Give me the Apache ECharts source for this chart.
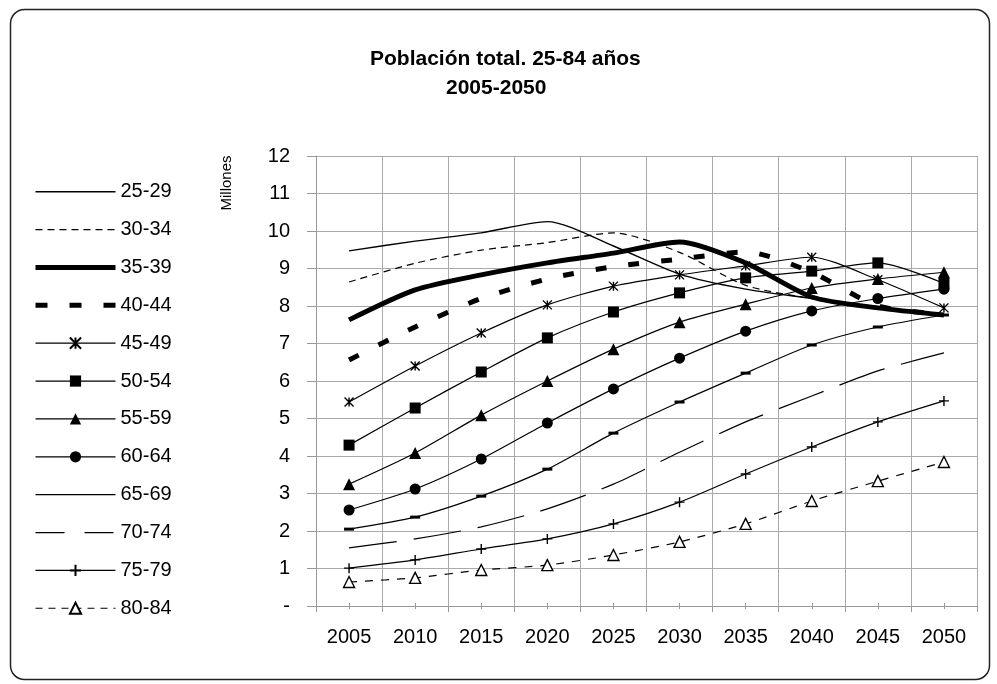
<!DOCTYPE html>
<html>
<head>
<meta charset="utf-8">
<title>Población total. 25-84 años</title>
<script src="https://cdn.jsdelivr.net/npm/echarts@6/dist/echarts.min.js"></script>
<style>
  html, body { margin: 0; padding: 0; background: #fff; }
  #chart { width: 997px; height: 684px; }
</style>
</head>
<body>
<div id="chart"></div>
<script>
// años (eje X)
var years = ['2005', '2010', '2015', '2020', '2025', '2030', '2035', '2040', '2045', '2050'];

// grupos de edad
var groups = ['25-29', '30-34', '35-39', '40-44', '45-49', '50-54', '55-59', '60-64', '65-69', '70-74', '75-79', '80-84'];

// población en millones
var g25_29 = [9.47, 9.73, 9.95, 10.25, 9.60, 8.85, 8.45, 8.20, 7.95, 7.75];
var g30_34 = [8.64, 9.14, 9.49, 9.69, 9.95, 9.43, 8.55, 8.20, 7.98, 7.75];
var g35_39 = [7.63, 8.43, 8.83, 9.15, 9.41, 9.71, 9.15, 8.24, 7.95, 7.76];
var g40_44 = [6.56, 7.44, 8.20, 8.72, 9.05, 9.25, 9.44, 8.90, 8.00, 7.78];
var g45_49 = [5.44, 6.40, 7.28, 8.03, 8.53, 8.83, 9.07, 9.30, 8.70, 7.95];
var g50_54 = [4.29, 5.28, 6.24, 7.15, 7.84, 8.35, 8.75, 8.93, 9.15, 8.60];
var g55_59 = [3.25, 4.08, 5.09, 6.00, 6.85, 7.57, 8.05, 8.48, 8.72, 8.90];
var g60_64 = [2.56, 3.12, 3.92, 4.88, 5.79, 6.61, 7.33, 7.87, 8.20, 8.45];
var g65_69 = [2.05, 2.37, 2.93, 3.65, 4.61, 5.44, 6.21, 6.96, 7.44, 7.76];
var g70_74 = [1.55, 1.79, 2.11, 2.59, 3.25, 4.10, 4.91, 5.60, 6.27, 6.75];
var g75_79 = [1.01, 1.23, 1.52, 1.79, 2.19, 2.77, 3.52, 4.24, 4.91, 5.47];
var g80_84 = [0.64, 0.75, 0.96, 1.09, 1.36, 1.71, 2.19, 2.80, 3.33, 3.84];

var values = [g25_29, g30_34, g35_39, g40_44, g45_49, g50_54, g55_59, g60_64, g65_69, g70_74, g75_79, g80_84];

// marcadores tipo Excel
var starPath = 'path://M0,0 L10,10 M10,0 L0,10 M5,0 L5,10';
var plusPath = 'path://M5,0 L5,10 M0,5 L10,5';
var dashPath = 'path://M0,0 L10,0 L10,3 L0,3 Z';

// estilo de cada serie: [ancho, tipo de linea, simbolo, tamaño, relleno, linea en leyenda]
var styles = [
  [1.4, 'solid', 'none'],
  [1.2, [7, 5], 'none'],
  [5, 'solid', 'none'],
  [5, [11, 22], 'none', 0, null, [12, 22]],
  [1.2, 'solid', starPath, 9, '#000'],
  [1.2, 'solid', 'rect', 11, '#000'],
  [1.2, 'solid', 'triangle', 12, '#000'],
  [1.2, 'solid', 'circle', 11, '#000'],
  [1.2, 'solid', dashPath, 10, '#000'],
  [1.2, [48, 17], 'none', 0, null, [29, 20]],
  [1.2, 'solid', plusPath, 10, '#000'],
  [1.2, [8, 8], 'triangle', 11, '#fff', [7, 6]]
];

var series = [];
var legendData = [];
for (let i = 0; i < groups.length; i++) {
  var st = styles[i];
  var border = (st[4] == '#fff' || st[2] == starPath || st[2] == plusPath) ? 1.4 : 0;
  series.push({
    name: groups[i],
    type: 'line',
    data: values[i],
    smooth: 0.25,
    symbol: st[2],
    symbolSize: st[3] || 0,
    symbolKeepAspect: true,
    showSymbol: st[2] != 'none',
    lineStyle: { color: '#000', width: st[0], type: st[1] },
    itemStyle: { color: st[4] || '#000', borderColor: '#000', borderWidth: border },
    emphasis: { disabled: true },
    z: 20 - i
  });
  // la leyenda no hereda el grosor de linea, se pone a mano
  var item = { name: groups[i], lineStyle: { width: st[0], type: st[5] || st[1], color: '#000' } };
  if (st[2] == 'none' || st[2] == dashPath) {
    item.itemStyle = { color: 'rgba(0,0,0,0)', borderWidth: 0 };
  }
  legendData.push(item);
}

var chart = echarts.init(document.getElementById('chart'), null, { renderer: 'canvas' });

var option = {
  animation: false,
  backgroundColor: '#fff',
  title: [
    { text: 'Población total. 25-84 años', left: 365, top: 42,
      textStyle: { fontFamily: 'Liberation Sans', fontWeight: 'bold', fontSize: 21, lineHeight: 24, color: '#000' } },
    { text: '2005-2050', left: 441, top: 71,
      textStyle: { fontFamily: 'Liberation Sans', fontWeight: 'bold', fontSize: 21, lineHeight: 24, color: '#000' } }
  ],
  legend: {
    orient: 'vertical',
    left: 33,
    top: 181.7,
    padding: 0,
    itemWidth: 80,
    itemHeight: 14,
    itemGap: 17.87,
    data: legendData,
    selectedMode: false,
    textStyle: { fontFamily: 'Liberation Sans', fontSize: 20, lineHeight: 20, color: '#000' }
  },
  grid: { left: 316, right: 20, top: 156, bottom: 78, containLabel: false },
  xAxis: [{
    type: 'category',
    data: years,
    boundaryGap: true,
    axisLine: { lineStyle: { color: '#999', width: 1 } },
    axisTick: { show: true, length: 6, lineStyle: { color: '#999' } },
    splitLine: { show: true, lineStyle: { color: '#aaa', width: 1 } },
    axisLabel: { margin: 21, color: '#000', fontFamily: 'Liberation Sans', fontSize: 20 }
  }, {
    // marcas pequeñas en el centro de cada categoría
    type: 'category',
    data: years,
    position: 'bottom',
    offset: -3,
    boundaryGap: true,
    axisLine: { show: false },
    axisTick: { show: true, alignWithLabel: true, length: 6, lineStyle: { color: '#999' } },
    splitLine: { show: false },
    axisLabel: { show: false }
  }],
  yAxis: {
    type: 'value',
    min: 0,
    max: 12,
    interval: 1,
    axisLine: { show: true, lineStyle: { color: '#999', width: 1 } },
    axisTick: { show: true, length: 9, lineStyle: { color: '#999' } },
    splitLine: { show: true, lineStyle: { color: '#aaa', width: 1 } },
    axisLabel: {
      margin: 26, color: '#000', fontFamily: 'Liberation Sans', fontSize: 20,
      formatter: function (v) { return v === 0 ? '-' : String(v); }
    }
  },
  graphic: [
    // marco redondeado
    { type: 'rect', z: -10, silent: true,
      shape: { x: 10.5, y: 9.5, width: 979, height: 670, r: 14 },
      style: { fill: 'none', stroke: '#222', lineWidth: 1.5 } },
    // titulo del eje Y
    { type: 'text', x: 227, y: 183, rotation: Math.PI / 2, silent: true,
      style: { text: 'Millones', align: 'center', verticalAlign: 'middle',
        font: '15px "Liberation Sans"', fill: '#000' } }
  ],
  series: series
};

chart.setOption(option);
</script>
</body>
</html>
